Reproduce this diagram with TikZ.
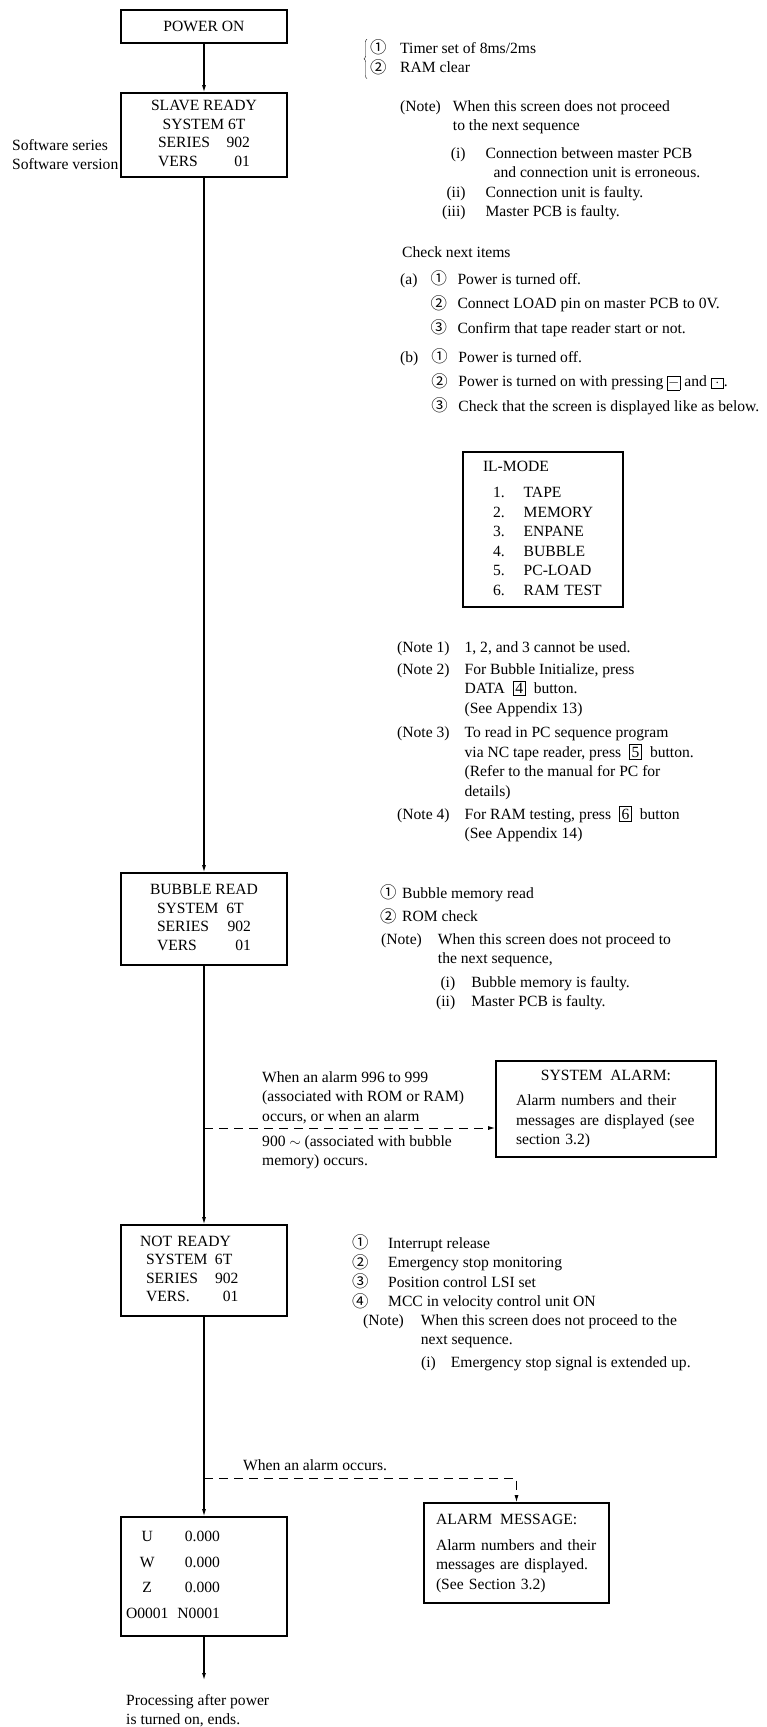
\documentclass[tikz,border=0pt]{standalone}
\usepackage{fontspec}
\setmainfont{Liberation Serif}
\newfontfamily\circfont[Scale=1.05]{Noto Sans CJK SC}
\usetikzlibrary{arrows.meta,decorations.pathreplacing}

\newcommand{\cn}[2][28]{\makebox[#1pt][l]{\raisebox{-0.5pt}{\circfont #2}}}
\newcommand{\keycap}[1]{{\setlength{\fboxsep}{1.8pt}\setlength{\fboxrule}{0.8pt}\fbox{\makebox[8pt]{#1}}}}
\newcommand{\txtlines}[1]{\begin{tabular}[t]{@{}l@{}}#1\end{tabular}}

\begin{document}
\begin{tikzpicture}[
  x=1pt, y=-1pt,
  font=\fontsize{15.6}{19.5}\selectfont,
  screen/.style = {draw, line width=1.6pt, minimum width=166pt, inner sep=0pt,
                   font=\fontsize{15.6}{18.5}\selectfont},
  panel/.style  = {draw, line width=1.6pt, inner ysep=0pt, align=left},
  txt/.style    = {anchor=base west, inner sep=0pt},
  flow/.style   = {line width=1.1pt, -{Latex[length=7pt,width=4pt]}},
  alarm/.style  = {line width=1pt, dash pattern=on 9pt off 6pt, -{Latex[length=7pt,width=4pt]}},
  brace/.style  = {thin, decorate, decoration={brace, amplitude=3pt}},
]
  \useasboundingbox (0,0) rectangle (767,1727);

  % screens on the main line
  \node[screen, minimum height=33pt] (power) at (204,26.5) {POWER ON};
  \node[screen, minimum height=84pt] (slave) at (204,135)
    {\begin{tabular}{@{}c@{}}SLAVE READY\\SYSTEM 6T\\\makebox[92pt]{SERIES\hfill 902}\\\makebox[92pt]{VERS\hfill 01}\end{tabular}};
  \node[screen, minimum height=92pt] (bubble) at (204,919)
    {\begin{tabular}{@{}c@{}}BUBBLE READ\\\makebox[94pt][l]{SYSTEM\enspace 6T}\\\makebox[94pt]{SERIES\hfill 902}\\\makebox[94pt]{VERS\hfill 01}\end{tabular}};
  \node[screen, minimum height=91pt, text width=128pt, inner xsep=19pt, align=left] (notready) at (204,1270.5)
    {\begin{tabular}{@{}l@{}}NOT READY\\\hspace*{6pt}\makebox[69pt][l]{SYSTEM}6T\\\hspace*{6pt}\makebox[69pt][l]{SERIES}902\\\hspace*{6pt}\makebox[69pt][l]{VERS.}\phantom{9}01\end{tabular}};
  \node[screen, minimum height=119pt, text width=156pt, inner xsep=5pt, align=left] (axes) at (204,1576.5)
    {\begin{tabular}{@{}c@{\hspace{9pt}}r@{}}U & 0.000\\[7pt]W & 0.000\\[7pt]Z & 0.000\\[7pt]O0001 & N0001\end{tabular}};
  \coordinate (finish) at (204,1680);

  \node[txt] (swlabel) at (12,150) {\txtlines{Software series\\Software version}};

  % side screens
  \node[panel, minimum width=160pt, minimum height=155pt, text width=120pt, inner xsep=20pt] (ilmode) at (543,529.5)
    {\begin{tabular}{@{\hspace{10pt}}r@{\hspace{19pt}}l@{}}\multicolumn{2}{@{}l@{}}{IL-MODE}\\[6.5pt]
      1. & TAPE\\2. & MEMORY\\3. & ENPANE\\4. & BUBBLE\\5. & PC-LOAD\\6. & RAM TEST\end{tabular}};
  \node[panel, minimum width=220pt, minimum height=96pt, text width=180pt, inner xsep=20pt] (sysalarm) at (606,1109)
    {\begin{tabular}{@{}l@{}}\makebox[180pt]{SYSTEM\enspace ALARM:}\\[5.5pt]Alarm numbers and their\\messages are displayed (see\\section 3.2)\end{tabular}};
  \node[panel, minimum width=185pt, minimum height=100pt, text width=161pt, inner xsep=12pt] (almsg) at (516.5,1553)
    {\begin{tabular}{@{}l@{}}ALARM\enspace MESSAGE:\\[6.5pt]Alarm numbers and their\\messages are displayed.\\(See Section 3.2)\end{tabular}};

  % notes for SLAVE READY
  \node[txt] (powerlist) at (370,53) {\txtlines{\cn[30]{①}Timer set of 8ms/2ms\\\cn[30]{②}RAM clear}};
  \draw[brace] ([xshift=-3pt]powerlist.south west) -- ([xshift=-3pt]powerlist.north west);
  \node[txt] (slavenote) at (400,111)
    {\begin{tabular}[t]{@{}l@{\hspace{12pt}}l@{}}(Note) & When this screen does not proceed\\ & to the next sequence\end{tabular}};
  \node[txt] (slavecause) at (442,158)
    {\begin{tabular}[t]{@{}r@{\hspace{20pt}}l@{}}(i) & Connection between master PCB\\
      & \hspace*{8pt}and connection unit is erroneous.\\(ii) & Connection unit is faulty.\\(iii) & Master PCB is faulty.\end{tabular}};
  \node[txt] (checkhdr) at (402,257) {Check next items};
  \node[txt] (checka) at (400,284)
    {\begin{tabular}[t]{@{}l@{\hspace{13pt}}l@{}}(a) & \cn[27]{①}Power is turned off.\\[5pt]
      & \cn[27]{②}Connect LOAD pin on master PCB to 0V.\\[5pt]
      & \cn[27]{③}Confirm that tape reader start or not.\end{tabular}};
  \node[txt] (checkb) at (400,362)
    {\begin{tabular}[t]{@{}l@{\hspace{13pt}}l@{}}(b) & \cn[27]{①}Power is turned off.\\[5pt]
      & \cn[27]{②}Power is turned on with pressing \keycap{$-$} and \keycap{$\cdot$}.\\[5pt]
      & \cn[27]{③}Check that the screen is displayed like as below.\end{tabular}};
  \node[txt] (pcnotes) at (397,652)
    {\begin{tabular}[t]{@{}l@{\hspace{15pt}}l@{}}(Note 1) & 1, 2, and 3 cannot be used.\\[2.5pt]
      (Note 2) & For Bubble Initialize, press\\ & DATA\enspace\keycap{4}\enspace button.\\ & (See Appendix 13)\\[5pt]
      (Note 3) & To read in PC sequence program\\ & via NC tape reader, press\enspace\keycap{5}\enspace button.\\
       & (Refer to the manual for PC for\\ & details)\\[3.5pt]
      (Note 4) & For RAM testing, press\enspace\keycap{6}\enspace button\\ & (See Appendix 14)\end{tabular}};

  % notes for BUBBLE READ
  \node[txt] (bubblelist) at (380,898) {\txtlines{\cn[22]{①}Bubble memory read\\[4pt]\cn[22]{②}ROM check}};
  \node[txt] (bubblenote) at (381,944)
    {\begin{tabular}[t]{@{}l@{\hspace{16pt}}l@{}}(Note) & When this screen does not proceed to\\ & the next sequence,\end{tabular}};
  \node[txt] (bubblecause) at (436,987)
    {\begin{tabular}[t]{@{}r@{\hspace{16pt}}l@{}}(i) & Bubble memory is faulty.\\(ii) & Master PCB is faulty.\end{tabular}};
  \node[txt] (alarmwhy) at (262,1082) {\txtlines{When an alarm 996 to 999\\(associated with ROM or RAM)\\occurs, or when an alarm}};
  \node[txt] (alarmwhy2) at (262,1146) {\txtlines{900 $\sim$ (associated with bubble\\memory) occurs.}};

  % notes for NOT READY
  \node[txt] (readylist) at (352,1248)
    {\txtlines{\cn[36]{①}Interrupt release\\\cn[36]{②}Emergency stop monitoring\\\cn[36]{③}Position control LSI set\\\cn[36]{④}MCC in velocity control unit ON}};
  \node[txt] (readynote) at (363,1325)
    {\begin{tabular}[t]{@{}l@{\hspace{17pt}}l@{}}(Note) & When this screen does not proceed to the\\ & next sequence.\end{tabular}};
  \node[txt] (readycause) at (421,1367)
    {\begin{tabular}[t]{@{}l@{\hspace{15pt}}l@{}}(i) & Emergency stop signal is extended up.\end{tabular}};
  \node[txt] (alarmocc) at (243,1470) {When an alarm occurs.};
  \node[txt] (endtxt) at (126,1705) {\txtlines{Processing after power\\is turned on, ends.}};

  % main sequence
  \draw[flow] (power) -- (slave);
  \draw[flow] (slave) -- (bubble);
  \draw[flow] (bubble) -- (notready);
  \draw[flow] (notready) -- (axes);
  \draw[flow] (axes) -- (finish);

  % alarm branches
  \coordinate (fork1) at (204,1128);
  \coordinate (fork2) at (204,1478);
  \draw[alarm] (fork1) -- (fork1 -| sysalarm.west);
  \draw[alarm] (fork2) -| (almsg);
\end{tikzpicture}
\end{document}
